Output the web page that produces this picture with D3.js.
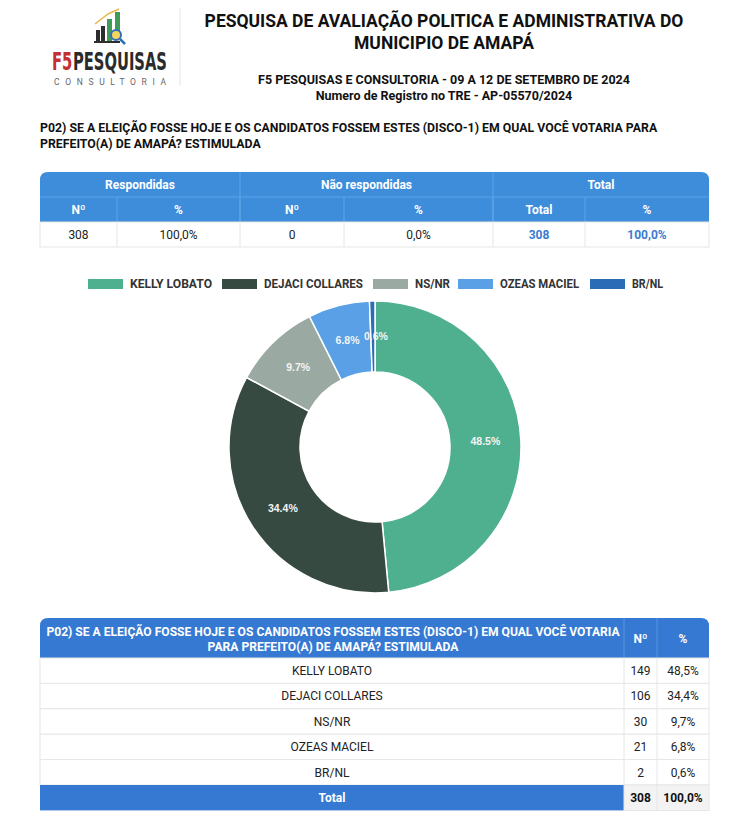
<!DOCTYPE html>
<html>
<head>
<meta charset="utf-8">
<script src="https://cdn.jsdelivr.net/npm/d3@7"></script>
<style>
  html, body { margin: 0; padding: 0; background: #fff; }
  svg { display: block; font-family: Roboto, "Liberation Sans", Arial, sans-serif; }
</style>
</head>
<body>
<svg id="chart" width="750" height="831"></svg>
<script>
// ---- data ----
const categories = ["KELLY LOBATO", "DEJACI COLLARES", "NS/NR", "OZEAS MACIEL", "BR/NL"];
const counts = [149, 106, 30, 21, 2];
const percents = [48.5, 34.4, 9.7, 6.8, 0.6];
const colors = ["#4fb08f", "#374a41", "#9aaaa2", "#5aa0e6", "#2b6cb6"];
const summaryGroups = ["Respondidas", "Não respondidas", "Total"];
const summaryHeaders = ["Nº", "%", "Nº", "%", "Total", "%"];
const summaryValues = ["308", "100,0%", "0", "0,0%", "308", "100,0%"];
const totalCount = "308";
const totalPct = "100,0%";

const svg = d3.select("#chart");
const fmt = v => v.toFixed(1) + "%";
const fmtComma = v => v.toFixed(1).replace(".", ",") + "%";

// ---- logo ----
const logo = svg.append("g");
logo.append("line").attr("x1", 180).attr("x2", 180).attr("y1", 8).attr("y2", 86)
  .attr("stroke", "#e3e3e3").attr("stroke-width", 1);
logo.append("rect").attr("x", 96).attr("y", 30).attr("width", 4).attr("height", 11).attr("fill", "#2d2d2d");
logo.append("rect").attr("x", 101).attr("y", 26).attr("width", 4).attr("height", 15).attr("fill", "#2d2d2d");
logo.append("rect").attr("x", 107).attr("y", 19).attr("width", 5).attr("height", 22).attr("fill", "#3e9b5a");
logo.append("rect").attr("x", 115).attr("y", 12).attr("width", 5).attr("height", 20).attr("fill", "#3e9b5a");
logo.append("rect").attr("x", 94).attr("y", 41).attr("width", 26).attr("height", 2).attr("fill", "#2d2d2d");
logo.append("path").attr("d", "M95,24 L108,14 L119,9").attr("fill", "none").attr("stroke", "#e9b84a").attr("stroke-width", 1.5);
logo.append("circle").attr("cx", 116).attr("cy", 35).attr("r", 5).attr("fill", "#f4d35e").attr("stroke", "#2f6fb3").attr("stroke-width", 2);
logo.append("line").attr("x1", 120).attr("y1", 39).attr("x2", 125).attr("y2", 44).attr("stroke", "#2f6fb3").attr("stroke-width", 2.5);
const logoFont = "'DejaVu Sans Condensed', 'Liberation Sans', Arial, sans-serif";
const lg = logo.append("g");
const tF5 = lg.append("text").attr("x", 0).attr("y", 0)
  .attr("font-family", logoFont).attr("font-weight", "bold").attr("font-size", 25)
  .attr("fill", "#c62f2f").text("F5");
const w1 = tF5.node().getComputedTextLength();
const tP = lg.append("text").attr("x", w1 + 1).attr("y", 0)
  .attr("font-family", logoFont).attr("font-weight", "bold").attr("font-size", 25)
  .attr("fill", "#2b2b2b").text("PESQUISAS");
const w2 = tP.node().getComputedTextLength();
lg.attr("transform", `translate(52,70) scale(${115 / (w1 + 1 + w2)},1)`);
logo.append("text").attr("x", 54).attr("y", 85).attr("font-size", 8.5).attr("fill", "#666")
  .attr("textLength", 112).attr("lengthAdjust", "spacing").text("CONSULTORIA");

// ---- titles ----
const tx = 444;
svg.append("text").attr("x", tx).attr("y", 27).attr("text-anchor", "middle")
  .attr("font-weight", "bold").attr("font-size", 17.5).attr("fill", "#111")
  .text("PESQUISA DE AVALIAÇÃO POLITICA E ADMINISTRATIVA DO");
svg.append("text").attr("x", tx).attr("y", 49).attr("text-anchor", "middle")
  .attr("font-weight", "bold").attr("font-size", 17.5).attr("fill", "#111")
  .text("MUNICIPIO DE AMAPÁ");
svg.append("text").attr("x", tx).attr("y", 84).attr("text-anchor", "middle")
  .attr("font-weight", "bold").attr("font-size", 12.5).attr("fill", "#111")
  .text("F5 PESQUISAS E CONSULTORIA - 09 A 12 DE SETEMBRO DE 2024");
svg.append("text").attr("x", tx).attr("y", 100).attr("text-anchor", "middle")
  .attr("font-weight", "bold").attr("font-size", 12.5).attr("fill", "#111")
  .text("Numero de Registro no TRE - AP-05570/2024");
svg.append("text").attr("x", 40).attr("y", 132)
  .attr("font-weight", "bold").attr("font-size", 12.3).attr("fill", "#111")
  .text("P02) SE A ELEIÇÃO FOSSE HOJE E OS CANDIDATOS FOSSEM ESTES (DISCO-1) EM QUAL VOCÊ VOTARIA PARA");
svg.append("text").attr("x", 40).attr("y", 148)
  .attr("font-weight", "bold").attr("font-size", 12.3).attr("fill", "#111")
  .text("PREFEITO(A) DE AMAPÁ? ESTIMULADA");

// ---- summary table ----
const T = svg.append("g");
const tL = 40, tR = 709, r0 = 172, r1 = 197, r2 = 222, r3 = 247;
const hdrBlue = "#3d8ddb";
const lineBlue = "#5fa3e6";
T.append("path").attr("d",
  `M${tL},${r2} L${tL},${r0 + 8} Q${tL},${r0} ${tL + 8},${r0} L${tR - 8},${r0} Q${tR},${r0} ${tR},${r0 + 8} L${tR},${r2} Z`)
  .attr("fill", hdrBlue);
const groupX = [40, 240, 493, 709];
const subX = [40, 117, 240, 344, 493, 585, 709];
T.append("line").attr("x1", tL).attr("x2", tR).attr("y1", r1).attr("y2", r1).attr("stroke", lineBlue);
groupX.slice(1, -1).forEach(x => T.append("line").attr("x1", x).attr("x2", x).attr("y1", r0).attr("y2", r2).attr("stroke", lineBlue));
subX.slice(1, -1).forEach(x => T.append("line").attr("x1", x).attr("x2", x).attr("y1", r1).attr("y2", r2).attr("stroke", lineBlue));
summaryGroups.forEach((g, i) => {
  T.append("text").attr("x", (groupX[i] + groupX[i + 1]) / 2).attr("y", r0 + 17)
    .attr("text-anchor", "middle").attr("font-weight", "bold").attr("font-size", 12).attr("fill", "#fff").text(g);
});
summaryHeaders.forEach((h, i) => {
  T.append("text").attr("x", (subX[i] + subX[i + 1]) / 2).attr("y", r1 + 17)
    .attr("text-anchor", "middle").attr("font-weight", "bold").attr("font-size", 12).attr("fill", "#fff").text(h);
});
T.append("rect").attr("x", tL).attr("y", r2).attr("width", tR - tL).attr("height", r3 - r2)
  .attr("fill", "#fff").attr("stroke", "#e6e6e6");
subX.slice(1, -1).forEach(x => T.append("line").attr("x1", x).attr("x2", x).attr("y1", r2).attr("y2", r3).attr("stroke", "#e6e6e6"));
summaryValues.forEach((v, i) => {
  const isTot = i >= 4;
  T.append("text").attr("x", (subX[i] + subX[i + 1]) / 2).attr("y", r2 + 17)
    .attr("text-anchor", "middle").attr("font-size", 12)
    .attr("font-weight", isTot ? "bold" : "normal")
    .attr("fill", isTot ? "#3a7bd0" : "#222").text(v);
});

// ---- legend ----
const legendX = [88, 222, 373, 458, 590];
const legendW = [82, 99, 35, 79, 31];
const L = svg.append("g");
categories.forEach((c, i) => {
  L.append("rect").attr("x", legendX[i]).attr("y", 279).attr("width", 35).attr("height", 10).attr("fill", colors[i]);
  L.append("text").attr("x", legendX[i] + 42).attr("y", 288).attr("font-size", 12).attr("font-weight", "bold")
    .attr("textLength", legendW[i]).attr("lengthAdjust", "spacingAndGlyphs")
    .attr("fill", "#333").text(c);
});

// ---- donut ----
const cx = 375, cy = 447, outerR = 146, innerR = 75;
const pie = d3.pie().value(d => d).sort(null);
const arc = d3.arc().innerRadius(innerR).outerRadius(outerR);
const arcs = pie(percents);
const P = svg.append("g").attr("transform", `translate(${cx},${cy})`);
P.selectAll("path.slice").data(arcs).join("path").attr("class", "slice")
  .attr("d", arc).attr("fill", (d, i) => colors[i]).attr("stroke", "#fff").attr("stroke-width", 1.5);
P.selectAll("text.lbl").data(arcs).join("text").attr("class", "lbl")
  .attr("transform", d => { const c = arc.centroid(d); return `translate(${c[0]},${c[1]})`; })
  .attr("dx", (d, i) => i === 4 ? 3 : 0)
  .attr("text-anchor", "middle").attr("dy", "0.35em")
  .attr("font-family", "'Liberation Sans', Arial, sans-serif")
  .attr("font-size", 10.5).attr("font-weight", "bold").attr("fill", "#f4f4f4")
  .text((d, i) => fmt(percents[i]));

// ---- bottom table ----
const B = svg.append("g");
const bL = 40, bR = 709, bC1 = 624, bC2 = 657;
const hTop = 618, hBot = 658, rowH = 25.4;
const blue2 = "#3579d3";
B.append("path").attr("d",
  `M${bL},${hBot} L${bL},${hTop + 8} Q${bL},${hTop} ${bL + 8},${hTop} L${bR - 8},${hTop} Q${bR},${hTop} ${bR},${hTop + 8} L${bR},${hBot} Z`)
  .attr("fill", blue2);
[bC1, bC2].forEach(x => B.append("line").attr("x1", x).attr("x2", x).attr("y1", hTop).attr("y2", hBot).attr("stroke", "#5b93de"));
B.append("text").attr("x", 333).attr("y", 636).attr("text-anchor", "middle").attr("font-weight", "bold")
  .attr("font-size", 12.1).attr("fill", "#fff").text("P02) SE A ELEIÇÃO FOSSE HOJE E OS CANDIDATOS FOSSEM ESTES (DISCO-1) EM QUAL VOCÊ VOTARIA");
B.append("text").attr("x", 333).attr("y", 651).attr("text-anchor", "middle").attr("font-weight", "bold")
  .attr("font-size", 12.1).attr("fill", "#fff").text("PARA PREFEITO(A) DE AMAPÁ? ESTIMULADA");
B.append("text").attr("x", (bC1 + bC2) / 2).attr("y", 643).attr("text-anchor", "middle").attr("font-weight", "bold")
  .attr("font-size", 12).attr("fill", "#fff").text("Nº");
B.append("text").attr("x", (bC2 + bR) / 2).attr("y", 643).attr("text-anchor", "middle").attr("font-weight", "bold")
  .attr("font-size", 12).attr("fill", "#fff").text("%");

const yRow = d3.scaleBand().domain(d3.range(categories.length + 1)).range([hBot, hBot + rowH * (categories.length + 1)]);
categories.forEach((c, i) => {
  const y = yRow(i);
  B.append("rect").attr("x", bL).attr("y", y).attr("width", bR - bL).attr("height", rowH)
    .attr("fill", "#fff").attr("stroke", "#e6e6e6");
  [bC1, bC2].forEach(x => B.append("line").attr("x1", x).attr("x2", x).attr("y1", y).attr("y2", y + rowH).attr("stroke", "#e6e6e6"));
  B.append("text").attr("x", (bL + bC1) / 2).attr("y", y + 17).attr("text-anchor", "middle")
    .attr("font-size", 12).attr("fill", "#222").text(c);
  B.append("text").attr("x", (bC1 + bC2) / 2).attr("y", y + 17).attr("text-anchor", "middle")
    .attr("font-size", 12).attr("fill", "#222").text(counts[i]);
  B.append("text").attr("x", (bC2 + bR) / 2).attr("y", y + 17).attr("text-anchor", "middle")
    .attr("font-size", 12).attr("fill", "#222").text(fmtComma(percents[i]));
});
const yt = yRow(categories.length);
B.append("rect").attr("x", bL).attr("y", yt).attr("width", bC1 - bL).attr("height", rowH).attr("fill", blue2);
B.append("rect").attr("x", bC1).attr("y", yt).attr("width", bR - bC1).attr("height", rowH).attr("fill", "#f3f3f3").attr("stroke", "#e6e6e6");
B.append("line").attr("x1", bC2).attr("x2", bC2).attr("y1", yt).attr("y2", yt + rowH).attr("stroke", "#e6e6e6");
B.append("text").attr("x", (bL + bC1) / 2).attr("y", yt + 17).attr("text-anchor", "middle").attr("font-weight", "bold")
  .attr("font-size", 12).attr("fill", "#fff").text("Total");
B.append("text").attr("x", (bC1 + bC2) / 2).attr("y", yt + 17).attr("text-anchor", "middle").attr("font-weight", "bold")
  .attr("font-size", 12).attr("fill", "#111").text(totalCount);
B.append("text").attr("x", (bC2 + bR) / 2).attr("y", yt + 17).attr("text-anchor", "middle").attr("font-weight", "bold")
  .attr("font-size", 12).attr("fill", "#111").text(totalPct);
</script>
</body>
</html>
